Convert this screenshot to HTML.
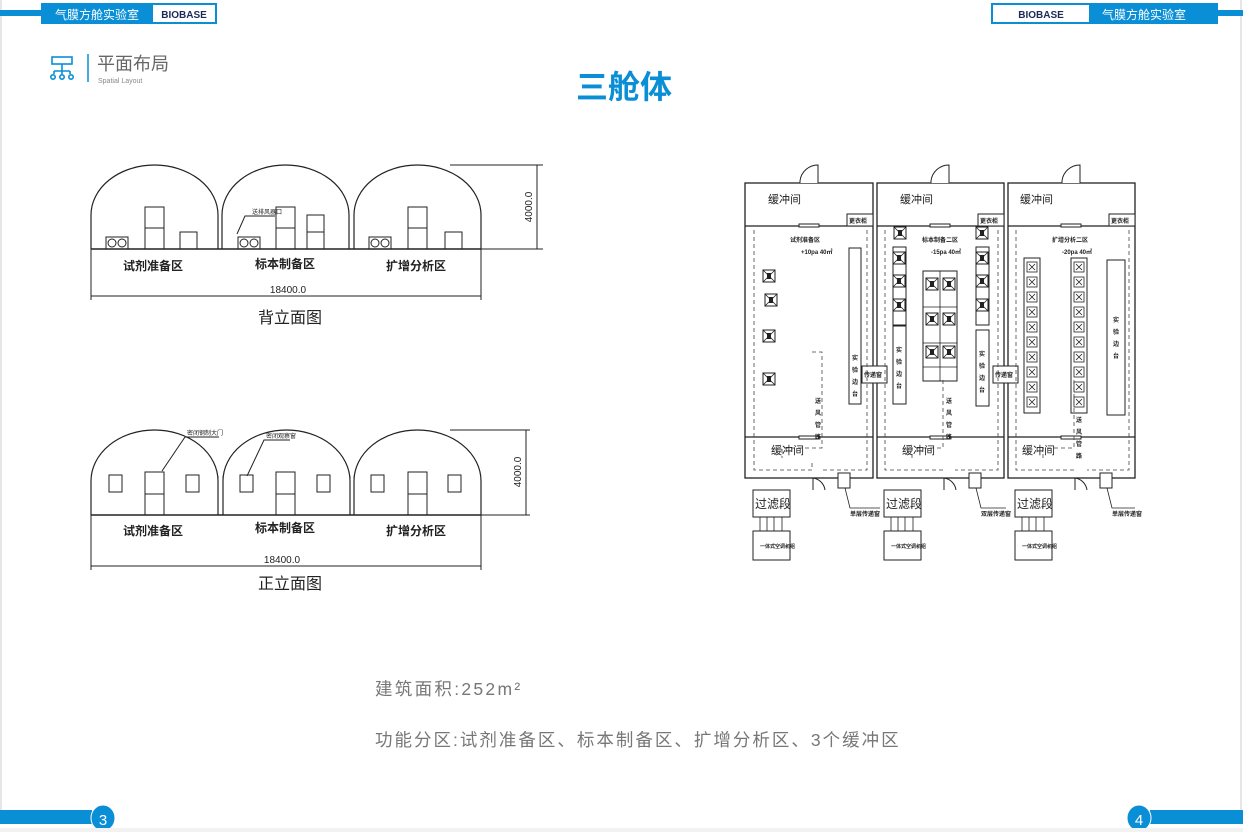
<!DOCTYPE html>
<html><head><meta charset="utf-8"><style>
body{margin:0;width:1243px;height:832px;background:#fff;overflow:hidden;font-family:"Liberation Sans","Noto Sans CJK SC",sans-serif}
svg{position:absolute;left:0;top:0}
</style></head><body>
<svg width="1243" height="832" viewBox="0 0 1243 832" font-family="Liberation Sans, Noto Sans CJK SC, sans-serif">
<defs>
<g id="domeB" fill="none" stroke="#222" stroke-width="1.2">
<path d="M0,84 L0,50 A63.5,50 0 0 1 127,50 L127,84"/>
</g>
<g id="xbox"><rect x="0" y="0" width="12" height="12" fill="#fff" stroke="#222"/><path d="M0,0L12,12M12,0L0,12" stroke="#222" stroke-width="0.8"/><rect x="4" y="3" width="4" height="6" fill="#222"/></g>
<g id="sbox"><rect x="0" y="0" width="10" height="10" fill="#fff" stroke="#222" stroke-width="0.8"/><path d="M2,2L8,8M8,2L2,8" stroke="#222" stroke-width="0.8"/></g>
</defs>
<line x1="1" y1="0" x2="1" y2="810" stroke="#ccc"/>
<line x1="1241" y1="0" x2="1241" y2="810" stroke="#ccc"/>
<rect x="0" y="10" width="42" height="6" fill="#0a8fd6"/>
<rect x="41" y="3" width="176" height="21" fill="#0a8fd6"/>
<rect x="153" y="5" width="62" height="17" fill="#fff"/>
<text x="97" y="19" font-size="12" fill="#fff" text-anchor="middle">气膜方舱实验室</text>
<text x="184" y="18" font-size="10" font-weight="bold" fill="#1c2a5a" text-anchor="middle">BIOBASE</text>
<rect x="991" y="3" width="227" height="21" fill="#0a8fd6"/>
<rect x="993" y="5" width="96" height="17" fill="#fff"/>
<rect x="1217" y="10" width="26" height="6" fill="#0a8fd6"/>
<text x="1041" y="18" font-size="10" font-weight="bold" fill="#1c2a5a" text-anchor="middle">BIOBASE</text>
<text x="1144" y="19" font-size="12" fill="#fff" text-anchor="middle">气膜方舱实验室</text>
<g stroke="#0a8fd6" stroke-width="1.6" fill="none">
<rect x="52" y="57" width="20" height="7"/>
<path d="M62,64V71M54,71H70M54,71V74M62,71V74M70,71V74"/>
<circle cx="53" cy="77" r="2.2"/><circle cx="62" cy="77" r="2.2"/><circle cx="71" cy="77" r="2.2"/>
</g>
<line x1="88" y1="54" x2="88" y2="82" stroke="#0a8fd6" stroke-width="1.5"/>
<text x="97" y="70" font-size="18" fill="#666">平面布局</text>
<text x="98" y="83" font-size="7" fill="#888">Spatial Layout</text>
<text x="624" y="98" font-size="32" font-weight="bold" fill="#0a8fd6" text-anchor="middle">三舱体</text>

<g transform="translate(91,165)"><use href="#domeB"/></g>
<g transform="translate(222,165)"><use href="#domeB"/></g>
<g transform="translate(354,165)"><use href="#domeB"/></g>
<g fill="none" stroke="#222" stroke-width="1">
<path d="M218,214 L218,249 M222,214 L222,249 M349,214 L349,249 M354,214 L354,249"/>
<line x1="91" y1="249" x2="481" y2="249" stroke-width="1.5"/>
<line x1="91" y1="249" x2="91" y2="300"/><line x1="481" y1="249" x2="481" y2="300"/>
<line x1="91" y1="296" x2="481" y2="296"/>
<line x1="450" y1="165" x2="543" y2="165"/><line x1="481" y1="249" x2="543" y2="249"/>
<line x1="537" y1="165" x2="537" y2="249"/>
<rect x="106" y="237" width="22" height="12"/><circle cx="112" cy="243" r="4"/><circle cx="122" cy="243" r="4"/>
<rect x="145" y="207" width="19" height="42"/><line x1="145" y1="228" x2="164" y2="228"/>
<rect x="180" y="232" width="17" height="17"/>
<rect x="238" y="237" width="22" height="12"/><circle cx="244" cy="243" r="4"/><circle cx="254" cy="243" r="4"/>
<rect x="276" y="207" width="19" height="42"/><line x1="276" y1="228" x2="295" y2="228"/>
<rect x="307" y="215" width="17" height="34"/><line x1="307" y1="232" x2="324" y2="232"/>
<rect x="369" y="237" width="22" height="12"/><circle cx="375" cy="243" r="4"/><circle cx="385" cy="243" r="4"/>
<rect x="408" y="207" width="19" height="42"/><line x1="408" y1="228" x2="427" y2="228"/>
<rect x="445" y="232" width="17" height="17"/>
<polyline points="237,234 245,216 275,216"/>
</g>
<text x="252" y="214" font-size="6" fill="#222">送排风器口</text>
<text x="153" y="270" font-size="12" font-weight="bold" fill="#222" text-anchor="middle">试剂准备区</text>
<text x="285" y="268" font-size="12" font-weight="bold" fill="#222" text-anchor="middle">标本制备区</text>
<text x="416" y="270" font-size="12" font-weight="bold" fill="#222" text-anchor="middle">扩增分析区</text>
<text x="288" y="293" font-size="10" fill="#222" text-anchor="middle">18400.0</text>
<text x="290" y="323" font-size="16" fill="#222" text-anchor="middle">背立面图</text>
<text transform="translate(532,207) rotate(-90)" font-size="10" fill="#222" text-anchor="middle">4000.0</text>

<g fill="none" stroke="#222" stroke-width="1.2">
<path d="M91,515 L91,481 A63.5,51 0 0 1 218,481 L218,515"/>
<path d="M223,515 L223,481 A63.5,51 0 0 1 350,481 L350,515"/>
<path d="M354,515 L354,481 A63.5,51 0 0 1 481,481 L481,515"/>
</g>
<g fill="none" stroke="#222" stroke-width="1">
<path d="M218,476 L218,515 M223,476 L223,515 M350,476 L350,515 M354,476 L354,515"/>
<line x1="91" y1="515" x2="481" y2="515" stroke-width="1.5"/>
<line x1="91" y1="515" x2="91" y2="570"/><line x1="481" y1="515" x2="481" y2="570"/>
<line x1="91" y1="566" x2="481" y2="566"/>
<line x1="450" y1="430" x2="530" y2="430"/><line x1="481" y1="515" x2="530" y2="515"/>
<line x1="526" y1="430" x2="526" y2="515"/>
<rect x="109" y="475" width="13" height="17"/><rect x="145" y="472" width="19" height="43"/><line x1="145" y1="494" x2="164" y2="494"/><rect x="186" y="475" width="13" height="17"/>
<rect x="240" y="475" width="13" height="17"/><rect x="276" y="472" width="19" height="43"/><line x1="276" y1="494" x2="295" y2="494"/><rect x="317" y="475" width="13" height="17"/>
<rect x="371" y="475" width="13" height="17"/><rect x="408" y="472" width="19" height="43"/><line x1="408" y1="494" x2="427" y2="494"/><rect x="448" y="475" width="13" height="17"/>
<polyline points="162,471 185,437 219,437"/>
<polyline points="247,476 264,440 290,440"/>
</g>
<text x="187" y="435" font-size="6" fill="#222">密闭钢制大门</text>
<text x="266" y="438" font-size="6" fill="#222">密闭观察窗</text>
<text x="153" y="535" font-size="12" font-weight="bold" fill="#222" text-anchor="middle">试剂准备区</text>
<text x="285" y="532" font-size="12" font-weight="bold" fill="#222" text-anchor="middle">标本制备区</text>
<text x="416" y="535" font-size="12" font-weight="bold" fill="#222" text-anchor="middle">扩增分析区</text>
<text x="282" y="563" font-size="10" fill="#222" text-anchor="middle">18400.0</text>
<text x="290" y="589" font-size="16" fill="#222" text-anchor="middle">正立面图</text>
<text transform="translate(521,472) rotate(-90)" font-size="10" fill="#222" text-anchor="middle">4000.0</text>

<g fill="none" stroke="#222" stroke-width="1.3">
<rect x="745" y="183" width="128" height="295"/>
<rect x="877" y="183" width="127" height="295"/>
<rect x="1008" y="183" width="127" height="295"/>
<line x1="745" y1="226" x2="873" y2="226"/><line x1="877" y1="226" x2="1004" y2="226"/><line x1="1008" y1="226" x2="1135" y2="226"/>
<line x1="745" y1="437" x2="873" y2="437"/><line x1="877" y1="437" x2="1004" y2="437"/><line x1="1008" y1="437" x2="1135" y2="437"/>
</g>
<g fill="#fff" stroke="#222" stroke-width="1">
<path d="M800,183 L800,181 A18,18 0 0 1 818,165 L818,183"/>
<path d="M931,183 L931,181 A18,18 0 0 1 949,165 L949,183"/>
<path d="M1062,183 L1062,181 A18,18 0 0 1 1080,165 L1080,183"/>
<path d="M813,478 L813,490 M813,478 A14,14 0 0 1 825,490"/>
<path d="M944,478 L944,490 M944,478 A14,14 0 0 1 956,490"/>
<path d="M1075,478 L1075,490 M1075,478 A14,14 0 0 1 1087,490"/>
<rect x="847" y="214" width="26" height="12"/><rect x="978" y="214" width="26" height="12"/><rect x="1109" y="214" width="26" height="12"/>
<rect x="799" y="224" width="20" height="3"/><rect x="930" y="224" width="20" height="3"/><rect x="1061" y="224" width="20" height="3"/>
<rect x="799" y="436" width="20" height="3"/><rect x="930" y="436" width="20" height="3"/><rect x="1061" y="436" width="20" height="3"/>
<rect x="849" y="248" width="12" height="156"/>
<rect x="893" y="326" width="13" height="78"/><rect x="976" y="330" width="13" height="76"/>
<rect x="1024" y="258" width="16" height="155"/><rect x="1071" y="258" width="16" height="155"/><rect x="1107" y="260" width="18" height="155"/>
<rect x="862" y="366" width="25" height="17"/><rect x="993" y="366" width="25" height="17"/>
<rect x="923" y="271" width="34" height="110"/>
<rect x="893" y="247" width="13" height="78"/><rect x="976" y="247" width="13" height="78"/>
<rect x="753" y="490" width="37" height="27"/><rect x="884" y="490" width="37" height="27"/><rect x="1015" y="490" width="37" height="27"/>
<rect x="753" y="531" width="37" height="29"/><rect x="884" y="531" width="37" height="29"/><rect x="1015" y="531" width="37" height="29"/>
<rect x="838" y="473" width="12" height="15"/><rect x="969" y="473" width="12" height="15"/><rect x="1100" y="473" width="12" height="15"/>
</g>
<g stroke="#222" stroke-width="0.8" fill="none">
<path d="M760,517V531M767,517V531M774,517V531M782,517V531"/>
<path d="M891,517V531M898,517V531M905,517V531M913,517V531"/>
<path d="M1022,517V531M1029,517V531M1036,517V531M1044,517V531"/>
<path d="M940,271V381M923,307H957M923,343H957M923,367H957"/>
<path d="M845,488 L850,508 L880,508M976,488 L981,508 L1006,508M1107,488 L1112,508 L1135,508"/>
</g>
<g stroke="#444" stroke-width="0.8" fill="none" stroke-dasharray="4,3">
<path d="M754,230V470H812V461"/><path d="M867,230V470H822"/>
<path d="M812,352H822V448H782V458"/>
<path d="M885,230V470H944"/><path d="M998,230V470H955"/>
<path d="M943,380V448H912V458"/>
<path d="M1016,230V470H1075"/><path d="M1129,230V470H1087"/>
<path d="M1074,380V448H1043V458"/>
</g>
<g fill="#222" font-size="11">
<text x="768" y="203">缓冲间</text><text x="900" y="203">缓冲间</text><text x="1020" y="203">缓冲间</text>
<text x="771" y="454">缓冲间</text><text x="902" y="454">缓冲间</text><text x="1022" y="454">缓冲间</text>
<text x="755" y="508" font-size="12">过滤段</text><text x="886" y="508" font-size="12">过滤段</text><text x="1017" y="508" font-size="12">过滤段</text>
</g>
<g fill="#222" font-size="6" font-weight="bold">
<text x="849" y="223">更衣柜</text><text x="980" y="223">更衣柜</text><text x="1111" y="223">更衣柜</text>
<text x="790" y="242">试剂准备区</text><text x="801" y="254">+10pa 40㎡</text>
<text x="922" y="242">标本制备二区</text><text x="931" y="254">-15pa 40㎡</text>
<text x="1052" y="242">扩增分析二区</text><text x="1062" y="254">-20pa 40㎡</text>
<text x="864" y="377">传递窗</text><text x="995" y="377">传递窗</text>
<text x="850" y="516">单层传递窗</text><text x="981" y="516">双层传递窗</text><text x="1112" y="516">单层传递窗</text>
<text x="760" y="548" font-size="5">一体式空调机组</text><text x="891" y="548" font-size="5">一体式空调机组</text><text x="1022" y="548" font-size="5">一体式空调机组</text>
</g>
<g fill="#222" font-size="6" font-weight="bold">
<text x="852" y="360">实</text><text x="852" y="372">验</text><text x="852" y="384">边</text><text x="852" y="396">台</text>
<text x="896" y="352">实</text><text x="896" y="364">验</text><text x="896" y="376">边</text><text x="896" y="388">台</text>
<text x="979" y="356">实</text><text x="979" y="368">验</text><text x="979" y="380">边</text><text x="979" y="392">台</text>
<text x="1113" y="322">实</text><text x="1113" y="334">验</text><text x="1113" y="346">边</text><text x="1113" y="358">台</text>
<text x="815" y="403">送</text><text x="815" y="415">风</text><text x="815" y="427">管</text><text x="815" y="439">路</text>
<text x="946" y="403">送</text><text x="946" y="415">风</text><text x="946" y="427">管</text><text x="946" y="439">路</text>
<text x="1076" y="422">送</text><text x="1076" y="434">风</text><text x="1076" y="446">管</text><text x="1076" y="458">路</text>
</g>
<use href="#xbox" x="763" y="270"/><use href="#xbox" x="765" y="294"/><use href="#xbox" x="763" y="330"/><use href="#xbox" x="763" y="373"/>
<use href="#xbox" x="894" y="227"/><use href="#xbox" x="976" y="227"/>
<use href="#xbox" x="893" y="252"/><use href="#xbox" x="893" y="275"/><use href="#xbox" x="893" y="299"/>
<use href="#xbox" x="976" y="252"/><use href="#xbox" x="976" y="275"/><use href="#xbox" x="976" y="299"/>
<use href="#xbox" x="926" y="278"/><use href="#xbox" x="943" y="278"/><use href="#xbox" x="926" y="313"/><use href="#xbox" x="943" y="313"/><use href="#xbox" x="926" y="346"/><use href="#xbox" x="943" y="346"/>
<g>
<use href="#sbox" x="1027" y="262"/><use href="#sbox" x="1027" y="277"/><use href="#sbox" x="1027" y="292"/><use href="#sbox" x="1027" y="307"/><use href="#sbox" x="1027" y="322"/><use href="#sbox" x="1027" y="337"/><use href="#sbox" x="1027" y="352"/><use href="#sbox" x="1027" y="367"/><use href="#sbox" x="1027" y="382"/><use href="#sbox" x="1027" y="397"/>
<use href="#sbox" x="1074" y="262"/><use href="#sbox" x="1074" y="277"/><use href="#sbox" x="1074" y="292"/><use href="#sbox" x="1074" y="307"/><use href="#sbox" x="1074" y="322"/><use href="#sbox" x="1074" y="337"/><use href="#sbox" x="1074" y="352"/><use href="#sbox" x="1074" y="367"/><use href="#sbox" x="1074" y="382"/><use href="#sbox" x="1074" y="397"/>
</g>
<text x="375" y="695" font-size="17.5" fill="#777" letter-spacing="2.3">建筑面积:252m²</text>
<text x="375" y="746" font-size="17.5" fill="#777" letter-spacing="2">功能分区:试剂准备区、标本制备区、扩增分析区、3个缓冲区</text>
<rect x="0" y="810" width="92" height="14" fill="#0a8fd6"/>
<ellipse cx="103" cy="818" rx="12" ry="13" fill="#0a8fd6" stroke="#fff" stroke-width="1"/>
<text x="103" y="825" font-size="15" fill="#fff" text-anchor="middle">3</text>
<rect x="1150" y="810" width="93" height="14" fill="#0a8fd6"/>
<ellipse cx="1139" cy="818" rx="12" ry="13" fill="#0a8fd6" stroke="#fff" stroke-width="1"/>
<text x="1139" y="825" font-size="15" fill="#fff" text-anchor="middle">4</text>
<rect x="0" y="828" width="1243" height="4" fill="#f2f2f2"/>
</svg>
</body></html>
